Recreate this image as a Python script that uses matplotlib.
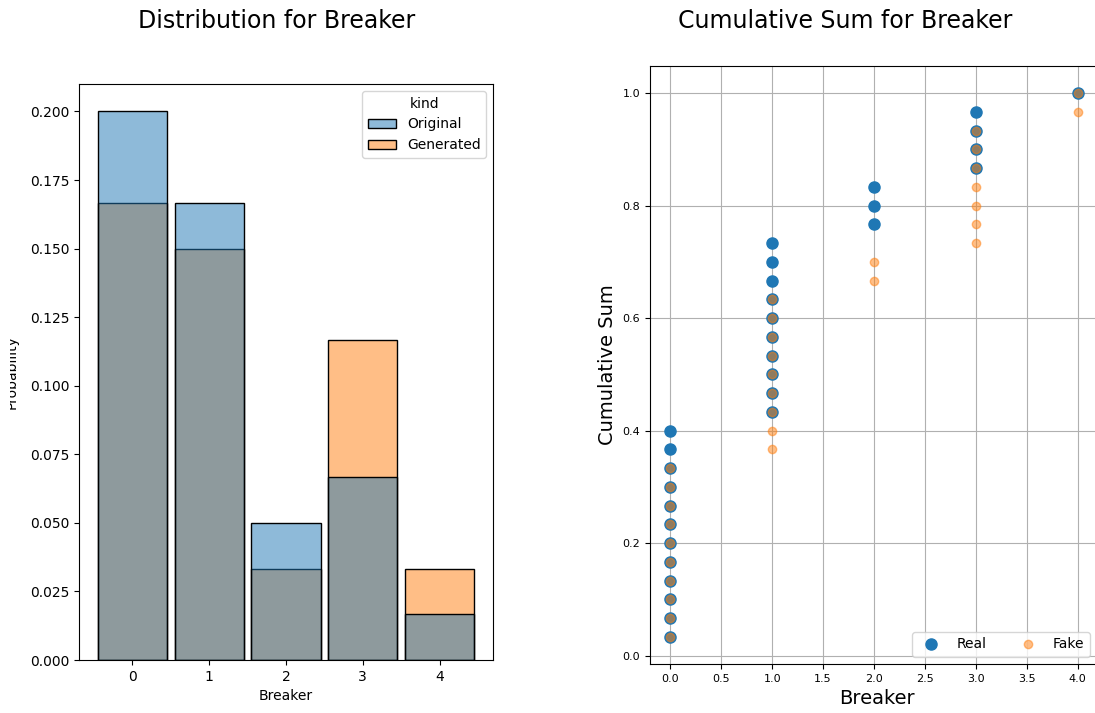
import matplotlib
matplotlib.use('Agg')
import matplotlib.pyplot as plt
import numpy as np
import pandas as pd
import seaborn as sns
from matplotlib.transforms import Bbox, TransformedBbox

# ── Data: counts per category for the real and generated columns ─────────────
COLUMN = 'Breaker'
CATEGORIES = [0, 1, 2, 3, 4]
REAL_COUNTS = [12, 10, 3, 4, 1]
FAKE_COUNTS = [10, 9, 2, 7, 2]
KINDS = ['Original', 'Generated']

real = np.repeat(CATEGORIES, REAL_COUNTS)
fake = np.repeat(CATEGORIES, FAKE_COUNTS)

df = pd.DataFrame({
    COLUMN: np.concatenate([real, fake]),
    'kind': [KINDS[0]] * len(real) + [KINDS[1]] * len(fake),
})

W, H = 1095, 713
fig = plt.figure(figsize=(W / 100, H / 100), dpi=100)

# ── Left: distribution ───────────────────────────────────────────────────────
ax1 = fig.add_axes([79 / W, 1 - 660 / H, 414 / W, 576 / H])
sns.histplot(data=df, x=COLUMN, hue='kind', stat='probability',
             discrete=True, shrink=0.9, ax=ax1)
fig.text(277 / W, 1 - 28 / H, f'Distribution for {COLUMN}',
         ha='center', va='baseline', fontsize=17)

# y label sits partly outside the visible margin
ax1.yaxis.set_label_coords(-0.145, 0.5)
lbl = ax1.yaxis.label
lbl.set_clip_box(TransformedBbox(Bbox([[10 / W, 0], [1, 1]]), fig.transFigure))
lbl.set_clip_on(True)

# ── Right: cumulative sums (axes runs past the right edge of the canvas) ─────
ax2 = fig.add_axes([650 / W, 1 - 664 / H, 453 / W, 598 / H])
x1 = np.sort(real)
x2 = np.sort(fake)
y = np.arange(1, len(real) + 1) / len(real)

ax2.set_xlabel(COLUMN, fontsize=14)
ax2.set_ylabel('Cumulative Sum', fontsize=14)
ax2.grid()
ax2.plot(x1, y, marker='o', linestyle='none', label='Real', ms=8)
ax2.plot(x2, y, marker='o', linestyle='none', label='Fake', alpha=0.5)
ax2.set_xlim(-0.2, 4.25)
ax2.tick_params(axis='both', which='major', labelsize=8)
# keep the legend inside the visible part of the canvas
ax2.legend(loc='lower right', ncol=2,
           bbox_to_anchor=(1097 / W, 1 - 664 / H), bbox_transform=fig.transFigure)
fig.text(845 / W, 1 - 28 / H, f'Cumulative Sum for {COLUMN}',
         ha='center', va='baseline', fontsize=17)

fig.savefig('out.png', dpi=100)
